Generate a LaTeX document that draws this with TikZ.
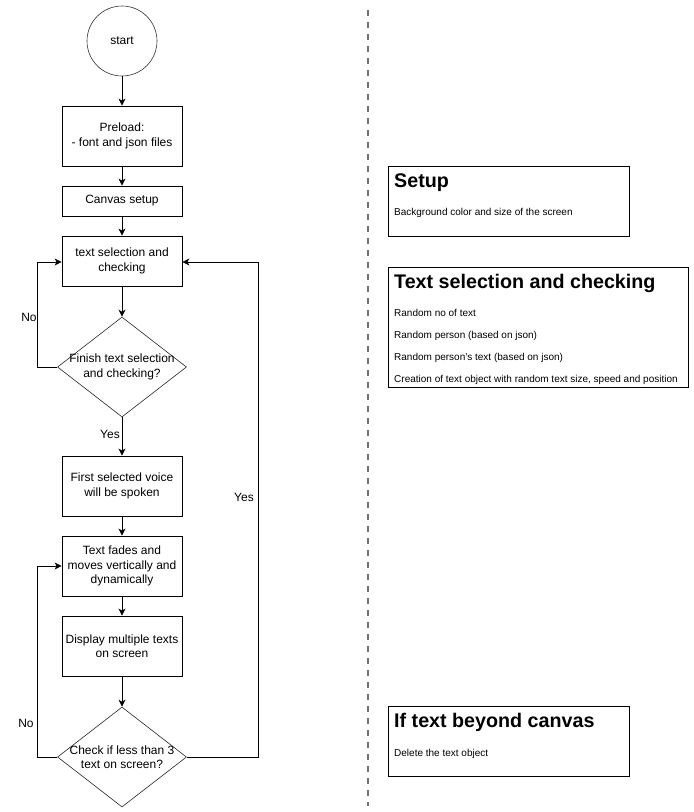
\documentclass[tikz,border=0pt]{standalone}
\usepackage{fontspec}
\setmainfont{Liberation Sans}
\usetikzlibrary{arrows.meta,shapes.geometric,positioning}
\tikzset{
  st/.style={circle,draw=black!80,fill=white,minimum size=70pt,inner sep=0pt,line width=.6pt,font=\fontsize{12}{14}\selectfont},
  bx/.style={rectangle,draw=black,fill=white,minimum width=120pt,inner sep=2pt,line width=.8pt,align=center,font=\fontsize{12}{14.5}\selectfont},
  dc/.style={diamond,draw=black!85,fill=white,minimum width=129pt,minimum height=100pt,inner sep=0pt,line width=.6pt},
  dl/.style={align=center,font=\fontsize{12}{14.5}\selectfont},
  fl/.style={-{Stealth[length=7pt,width=7pt,inset=2pt]},line width=.8pt,draw=black},
  lb/.style={font=\fontsize{12}{14}\selectfont},
  % the right-hand panels: a plain box with a bold heading and small lines
  pnl/.style={rectangle,draw=black,line width=.9pt,anchor=north west,inner sep=0pt},
  ttl/.style={anchor=base west,inner sep=0pt,font=\fontsize{19.7}{22}\selectfont\bfseries},
  itm/.style={anchor=base west,inner sep=0pt,font=\fontsize{10}{12}\selectfont},
  sep/.style={draw=black!55,line width=1.8pt,dash pattern=on 6pt off 6pt},
}
\begin{document}
\begin{tikzpicture}[x=1pt,y=-1pt]
\useasboundingbox (0,0) rectangle (694,812);
% flowchart
\node[st] (start) at (122,41) {start};
\node[bx,minimum height=60pt] (pre) at (122,136) {Preload:\\ - font and json files};
\node[bx,minimum height=30pt] (cvs) at (122,201) {Canvas setup};
\node[bx,minimum height=50pt] (sel) at (122,261) {text selection and\\checking};
\node[dc,label={[dl]center:Finish text selection\\and checking?}] (fin) at (122,367) {};
\node[bx,minimum height=60pt] (voc) at (122,486) {First selected voice\\will be spoken};
\node[bx,minimum height=60pt] (fad) at (122,566) {Text fades and\\moves vertically and\\dynamically};
\node[bx,minimum height=60pt] (dsp) at (122,646) {Display multiple texts\\on screen};
\node[dc,label={[dl]center:Check if less than 3\\text on screen?}] (chk) at (122,757) {};

\draw[fl] (start)--(pre);
\draw[fl] (pre)--(cvs);
\draw[fl] (cvs)--(sel);
\draw[fl] (sel)--(fin);
\draw[fl] (fin)--(voc);
\draw[fl] (voc)--(fad);
\draw[fl] (fad)--(dsp);
\draw[fl] (dsp)--(chk);
\draw[fl] (fin.west) -| (37,262) -- (sel.west |- 0,262);
\draw[fl] (chk.west) -| (37,566) -- (fad.west);
\draw[fl] (chk.east) -| (258,262) -- (sel.east |- 0,262);

\node[lb] (no1) at (29,317) {No};
\node[lb] (yes1) at (110,434) {Yes};
\node[lb] (no2) at (26,723) {No};
\node[lb] (yes2) at (244,497) {Yes};

% divider
\coordinate (dtop) at (368,10);
\coordinate (dbot) at (368,806);
\draw[sep] (dtop)--(dbot);

% notes
\node[pnl,minimum width=241pt,minimum height=70pt] (nsetup) at (388,166) {};
\node[ttl] (tsetup) at (394,187) {Setup};
\node[itm] (isetup) at (394,215) {Background color and size of the screen};

\node[pnl,minimum width=300pt,minimum height=120pt] (nsel) at (388,267) {};
\node[ttl] (tsel) at (394,288) {Text selection and checking};
\node[itm] (isel1) at (394,316) {Random no of text};
\node[itm] (isel2) at (394,338) {Random person (based on json)};
\node[itm] (isel3) at (394,360) {Random person's text (based on json)};
\node[itm] (isel4) at (394,382) {Creation of text object with random text size, speed and position};

\node[pnl,minimum width=241pt,minimum height=70pt] (nbeyond) at (388,706) {};
\node[ttl] (tbeyond) at (394,727) {If text beyond canvas};
\node[itm] (ibeyond) at (394,756) {Delete the text object};
\end{tikzpicture}
\end{document}
